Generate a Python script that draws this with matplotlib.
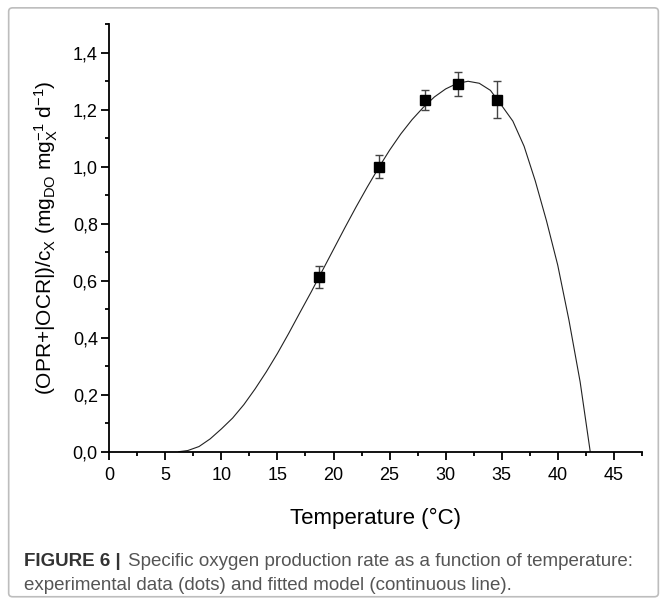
import numpy as np
import matplotlib
matplotlib.use('Agg')
import matplotlib.pyplot as plt
from matplotlib.patches import FancyBboxPatch
from matplotlib.ticker import MultipleLocator, FuncFormatter

# experimental data (dots)
temp = [18.7, 24.1, 28.2, 31.1, 34.6]
rate = [0.614, 1.000, 1.234, 1.292, 1.236]
rate_err = [0.039, 0.041, 0.036, 0.042, 0.065]

# fitted model (continuous line)
fit_temp = [6.2, 7.0, 8.0, 9.0, 10.0, 11.0, 12.0, 13.0, 14.0, 15.0, 16.0,
            17.0, 18.0, 19.0, 20.0, 21.0, 22.0, 23.0, 24.0, 25.0, 26.0,
            27.0, 28.0, 29.0, 30.0, 31.0, 32.0, 33.0, 34.0, 35.0, 36.0,
            37.0, 38.0, 39.0, 40.0, 41.0, 42.0, 42.9]
fit_rate = [0.000, 0.004, 0.018, 0.045, 0.080, 0.118, 0.165, 0.220, 0.280,
            0.345, 0.415, 0.488, 0.560, 0.635, 0.710, 0.785, 0.858, 0.928,
            0.995, 1.058, 1.115, 1.165, 1.208, 1.245, 1.273, 1.292, 1.300,
            1.293, 1.268, 1.215, 1.160, 1.072, 0.950, 0.810, 0.655, 0.462,
            0.245, 0.000]

plt.rcParams['font.family'] = ['Liberation Sans', 'DejaVu Sans']
plt.rcParams['mathtext.fontset'] = 'custom'
plt.rcParams['mathtext.rm'] = 'Liberation Sans'
plt.rcParams['mathtext.it'] = 'Liberation Sans'

fig = plt.figure(figsize=(6.67, 6.04), dpi=100)
fig.patches.append(FancyBboxPatch((0.013, 0.012), 0.974, 0.975,
                                  boxstyle='round,pad=0,rounding_size=0.006',
                                  transform=fig.transFigure, fill=False,
                                  edgecolor='#bdbdbd', linewidth=1.2))

ax = fig.add_axes([0.1639, 0.2522, 0.7983, 0.7076])
ax.plot(fit_temp, fit_rate, color='#222222', linewidth=0.8)
ax.errorbar(temp, rate, yerr=rate_err, fmt='s', color='black',
            markersize=7, ecolor='#444444', elinewidth=1.0,
            capsize=3, capthick=1.0, zorder=3)

ax.set_xlim(0, 47.5)
ax.set_ylim(0, 1.5)
ax.xaxis.set_major_locator(MultipleLocator(5))
ax.xaxis.set_minor_locator(MultipleLocator(2.5))
ax.yaxis.set_major_locator(MultipleLocator(0.2))
ax.yaxis.set_minor_locator(MultipleLocator(0.1))
ax.yaxis.set_major_formatter(FuncFormatter(lambda v, p: ('%.1f' % v).replace('.', ',')))

for s in ['top', 'right']:
    ax.spines[s].set_visible(False)
for s in ['left', 'bottom']:
    ax.spines[s].set_linewidth(1.3)
ax.tick_params(which='major', direction='out', length=5.8, width=1.3, labelsize=13)
ax.tick_params(which='minor', direction='out', length=3, width=1.3)
ax.tick_params(axis='x', which='major', pad=5.5)
ax.tick_params(axis='y', which='major', pad=2.5)

ax.set_xlabel('Temperature (°C)', fontsize=16, labelpad=17)
ax.set_ylabel(r'(OPR+|OCR|)/c$_\mathregular{X}$ (mg$_\mathregular{DO}$ '
              r'mg$_\mathregular{X}^\mathregular{-1}$ d$^\mathregular{-1}$)',
              fontsize=15, labelpad=9)

fig.text(0.036, 0.063, 'FIGURE 6 |', fontsize=13.5, fontweight='bold',
         color='#333333', va='baseline')
fig.text(0.192, 0.063, 'Specific oxygen production rate as a function of temperature:',
         fontsize=13.5, color='#555555', va='baseline')
fig.text(0.036, 0.024, 'experimental data (dots) and fitted model (continuous line).',
         fontsize=13.5, color='#555555', va='baseline')

fig.savefig('out.png', dpi=100)
